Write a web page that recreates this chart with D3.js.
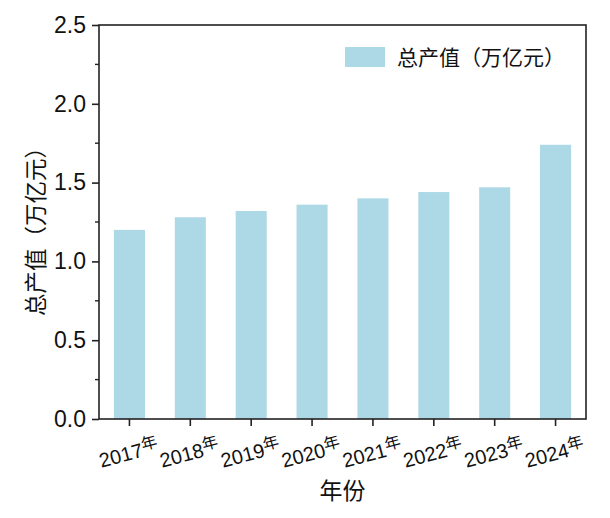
<!DOCTYPE html>
<html>
<head>
<meta charset="utf-8">
<script src="https://cdn.jsdelivr.net/npm/d3@7"></script>
<style>
  body { margin: 0; background: #fff; }
  text { font-family: "Liberation Sans", Arial, sans-serif; fill: #111; }
  .cjk { font-family: "Noto Sans CJK SC", sans-serif; }
</style>
</head>
<body>
<script>
const years = ["2017", "2018", "2019", "2020", "2021", "2022", "2023", "2024"];
const values = [1.20, 1.28, 1.32, 1.36, 1.40, 1.44, 1.47, 1.74];
const yTicks = [0, 0.5, 1.0, 1.5, 2.0, 2.5];
const yMinor = [0.25, 0.75, 1.25, 1.75, 2.25];

var w = 610, h = 518;
var pL = 99, pR = 586, pT = 25, pB = 419;
var barColor = "#add8e6";

var svg = d3.select("body").append("svg")
    .attr("width", w)
    .attr("height", h);

var x = d3.scaleBand()
    .domain(years)
    .range([pL, pR])
    .paddingInner(0.49)
    .paddingOuter(0.245);

var y = d3.scaleLinear()
    .domain([0, 2.5])
    .range([pB, pT]);

// bars
svg.append("g").selectAll("rect")
    .data(values)
    .enter()
    .append("rect")
    .attr("x", (d, i) => x(years[i]))
    .attr("y", d => y(d))
    .attr("width", x.bandwidth())
    .attr("height", d => y(0) - y(d))
    .attr("fill", barColor);

// frame
svg.append("rect")
    .attr("x", pL).attr("y", pT)
    .attr("width", pR - pL).attr("height", pB - pT)
    .attr("fill", "none").attr("stroke", "#222").attr("stroke-width", 1.6);

// y axis
var yAxis = svg.append("g")
    .attr("transform", `translate(${pL},0)`)
    .call(d3.axisLeft(y).tickValues(yTicks).tickFormat(d3.format(".1f")).tickSize(7).tickPadding(6));
yAxis.select(".domain").remove();
yAxis.selectAll("line").attr("stroke", "#222").attr("stroke-width", 1.6);
yAxis.selectAll("text").attr("font-size", 23).attr("fill", "#111")
    .style("font-family", "'Liberation Sans', Arial, sans-serif");

svg.append("g").selectAll("line")
    .data(yMinor)
    .enter()
    .append("line")
    .attr("x1", pL - 4).attr("x2", pL)
    .attr("y1", d => y(d)).attr("y2", d => y(d))
    .attr("stroke", "#222").attr("stroke-width", 1.4);

// x axis
var xAxis = svg.append("g")
    .attr("transform", `translate(0,${pB})`)
    .call(d3.axisBottom(x).tickSize(7).tickFormat(""));
xAxis.select(".domain").remove();
xAxis.selectAll("line").attr("stroke", "#222").attr("stroke-width", 1.6);

var xl = svg.append("g").selectAll("text")
    .data(years)
    .enter()
    .append("text")
    .attr("text-anchor", "middle")
    .attr("transform", d => `translate(${x(d) + x.bandwidth() / 2 + 1},${pB + 41}) rotate(-15)`)
    .attr("font-size", 20);
xl.append("tspan").text(d => d);
xl.append("tspan").attr("class", "cjk").attr("font-size", 16).attr("dy", -6).text("年");

// axis titles
svg.append("text")
    .attr("class", "cjk")
    .attr("x", (pL + pR) / 2)
    .attr("y", 499)
    .attr("text-anchor", "middle")
    .attr("font-size", 23)
    .text("年份");

svg.append("text")
    .attr("class", "cjk")
    .attr("transform", `translate(44,${(pT + pB) / 2 + 4}) rotate(-90)`)
    .attr("text-anchor", "middle")
    .attr("font-size", 22.5)
    .text("总产值（万亿元）");

// legend
svg.append("rect")
    .attr("x", 345).attr("y", 47)
    .attr("width", 40).attr("height", 20)
    .attr("fill", barColor);
svg.append("text")
    .attr("class", "cjk")
    .attr("x", 397).attr("y", 65)
    .attr("font-size", 21)
    .text("总产值（万亿元）");
</script>
</body>
</html>
